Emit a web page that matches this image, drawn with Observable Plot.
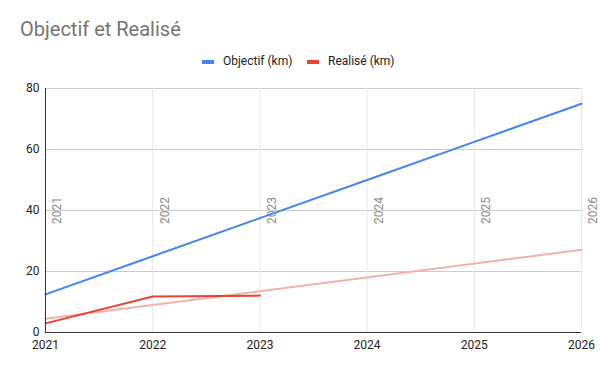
<!DOCTYPE html>
<html>
<head>
<meta charset="utf-8">
<script src="https://cdn.jsdelivr.net/npm/d3@7"></script>
<script src="https://cdn.jsdelivr.net/npm/@observablehq/plot@0.6"></script>
<style>
  body { margin: 0; background: #fff; font-family: Roboto, "Noto Sans", sans-serif; }
  #wrap { position: relative; width: 600px; height: 371px; overflow: hidden; }
  #header { position: relative; width: 600px; height: 76px; }
  #title { position: absolute; left: 20px; top: 17px; font-size: 20px; color: #757575; white-space: nowrap; }
  .sw { position: absolute; width: 12px; height: 4px; top: 60px; }
  .lt { position: absolute; top: 54px; font-size: 12px; color: #222; white-space: nowrap; }
</style>
</head>
<body>
<div id="wrap">
  <div id="header">
    <div id="title">Objectif et Realisé</div>
    <div class="sw" style="left:202px;background:#4285F4"></div>
    <div class="lt" style="left:223px">Objectif (km)</div>
    <div class="sw" style="left:307px;background:#EA4335"></div>
    <div class="lt" style="left:328px">Realisé (km)</div>
  </div>
  <div id="chart"></div>
</div>
<script>
const years = [2021, 2022, 2023, 2024, 2025, 2026];
const objectif = [12.5, 25, 37.5, 50, 62.5, 75];
const realiseYears = [2021, 2022, 2023];
const realise = [3.0, 11.8, 12.1];
const trendYears = [2021, 2026];
const trend = [4.5, 27.1];
const yTicks = [0, 20, 40, 60, 80];

const objData = years.map((x, i) => ({x, y: objectif[i]}));
const realData = realiseYears.map((x, i) => ({x, y: realise[i]}));
const trendData = trendYears.map((x, i) => ({x, y: trend[i]}));

const chart = Plot.plot({
  width: 600,
  height: 295,
  marginTop: 12,
  marginBottom: 39,
  marginLeft: 45,
  marginRight: 19,
  style: {fontFamily: "Roboto, 'Noto Sans', sans-serif", background: "#fff"},
  x: {domain: [2021, 2026]},
  y: {domain: [0, 80]},
  marks: [
    Plot.gridY(yTicks.filter(d => d > 0), {stroke: "#cccccc", strokeOpacity: 1}),
    Plot.gridX(years.slice(1), {stroke: "#e6e6e6", strokeOpacity: 1}),
    Plot.axisY(yTicks, {tickSize: 0, tickPadding: 6, fontSize: 12, fill: "#222", label: null}),
    Plot.axisX(years, {tickSize: 0, tickPadding: 8, fontSize: 12, fill: "#222", tickFormat: d => String(d), label: null}),
    Plot.text(years, {x: d => d, y: 40, text: d => String(d), rotate: -90, textAnchor: "middle", dx: 12, fontSize: 12, fill: "#8a8a8a"}),
    Plot.line(trendData, {x: "x", y: "y", stroke: "#F6B0A9", strokeWidth: 2}),
    Plot.line(realData, {x: "x", y: "y", stroke: "#EA4335", strokeWidth: 2}),
    Plot.line(objData, {x: "x", y: "y", stroke: "#4285F4", strokeWidth: 2}),
    Plot.ruleY([0], {stroke: "#333", strokeWidth: 1}),
    Plot.ruleX([2021], {stroke: "#333", strokeWidth: 1})
  ]
});
document.getElementById("chart").appendChild(chart);
</script>
</body>
</html>
